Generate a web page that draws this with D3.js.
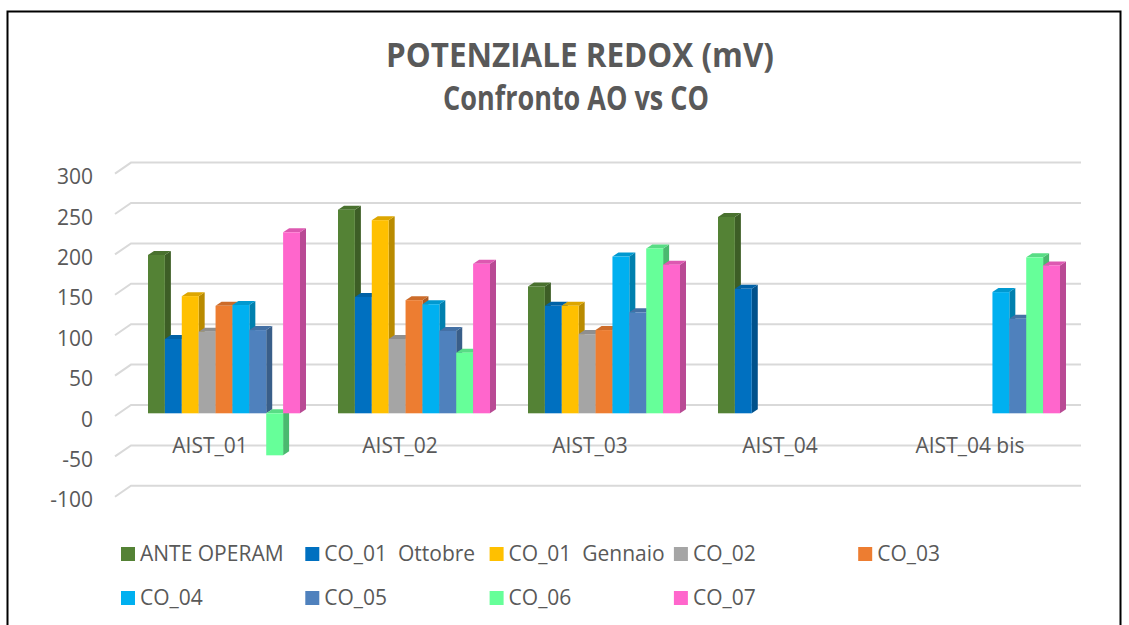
<!DOCTYPE html>
<html>
<head>
<meta charset="utf-8">
<script src="https://cdn.jsdelivr.net/npm/d3@7"></script>
<style>
    body { margin: 0; background: #fff; }
    text { font-family: 'Open Sans', sans-serif; fill: #595959; }
</style>
</head>
<body>
<svg id="chart" width="1129" height="625"></svg>
<script>
let categories = ['AIST_01', 'AIST_02', 'AIST_03', 'AIST_04', 'AIST_04 bis']
let seriesNames = [
    'ANTE OPERAM', 'CO_01  Ottobre', 'CO_01  Gennaio', 'CO_02', 'CO_03',
    'CO_04', 'CO_05', 'CO_06', 'CO_07'
]
let seriesColors = [
    '#548235', '#0070c0', '#ffc000', '#a5a5a5', '#ed7d31',
    '#00b0f0', '#4f81bd', '#66ff99', '#ff66cc'
]
let anteOperam   = [196, 252, 157, 243, null]
let co01Ottobre  = [92, 144, 133, 154, null]
let co01Gennaio  = [145, 239, 133, null, null]
let co02         = [101, 92, 98, null, null]
let co03         = [133, 140, 103, null, null]
let co04         = [134, 135, 194, null, 150]
let co05         = [103, 102, 125, null, 117]
let co06         = [-52, 75, 204, null, 193]
let co07         = [224, 185, 184, null, 183]
let yTicks = [-100, -50, 0, 50, 100, 150, 200, 250, 300]

function main() {
    let svg = d3.select('#chart')
    let values = [anteOperam, co01Ottobre, co01Gennaio, co02, co03, co04, co05, co06, co07]

    // 3D offsets: floor/back wall and bar depth
    let wallDx = 16, wallBack = -8.3, wallFront = 2.7
    let depthDx = 6, depthDy = -4

    let y = d3.scaleLinear().domain([-100, 300]).range([494.1, 170.9]),
        xBack = d3.scaleBand().domain(categories).range([131, 1081]),
        xFront = d3.scaleBand().domain(categories).range([131 - wallDx, 1081 - wallDx]),
        xInner = d3.scaleBand().domain(d3.range(seriesNames.length)).range([0, xBack.bandwidth() * 0.8])

    // outer frame
    svg.append('rect')
        .attr('x', 7.5).attr('y', 11.5)
        .attr('width', 1113).attr('height', 700)
        .attr('fill', 'none').attr('stroke', '#000').attr('stroke-width', 2)

    // title
    svg.append('text')
        .attr('x', 580).attr('y', 67)
        .attr('text-anchor', 'middle')
        .attr('textLength', 388).attr('lengthAdjust', 'spacingAndGlyphs')
        .style('font-size', '34px').style('font-weight', 'bold')
        .text('POTENZIALE REDOX (mV)')
    svg.append('text')
        .attr('x', 576).attr('y', 110)
        .attr('text-anchor', 'middle')
        .attr('textLength', 266).attr('lengthAdjust', 'spacingAndGlyphs')
        .style('font-size', '34px').style('font-weight', 'bold')
        .text('Confronto AO vs CO')

    // gridlines with the slanted floor edge on the left
    svg.append('g')
        .selectAll('path')
        .data(yTicks)
        .enter()
        .append('path')
        .attr('d', d => 'M' + xFront.range()[0] + ',' + (y(d) + wallFront)
            + 'L' + xBack.range()[0] + ',' + (y(d) + wallBack)
            + 'L' + xBack.range()[1] + ',' + (y(d) + wallBack))
        .attr('fill', 'none')
        .attr('stroke', '#d9d9d9')
        .attr('stroke-width', 2)

    svg.append('g')
        .selectAll('text')
        .data(yTicks)
        .enter()
        .append('text')
        .attr('x', 93)
        .attr('y', d => y(d) + 6)
        .attr('dy', '0.35em')
        .attr('text-anchor', 'end')
        .style('font-size', '21px')
        .text(d => d)

    svg.append('g')
        .selectAll('text')
        .data(categories)
        .enter()
        .append('text')
        .attr('x', d => xFront(d) + xFront.bandwidth() / 2)
        .attr('y', 446)
        .attr('dy', '0.35em')
        .attr('text-anchor', 'middle')
        .style('font-size', '21px')
        .text(d => d)

    // bars, drawn left to right so each front face covers the previous side
    let bars = []
    categories.forEach((c, ci) => {
        seriesNames.forEach((s, si) => {
            let v = values[si][ci]
            if (v === null) return
            bars.push({cat: c, series: si, value: v})
        })
    })

    let w = xInner.bandwidth()
    svg.append('g')
        .selectAll('g')
        .data(bars)
        .enter()
        .append('g')
        .each(function(d) {
            let g = d3.select(this),
                color = seriesColors[d.series],
                x0 = xBack(d.cat) + xBack.bandwidth() * 0.1 - 2 + xInner(d.series),
                yt = y(Math.max(d.value, 0)),
                yb = y(Math.min(d.value, 0))
            g.append('path')
                .attr('d', 'M' + (x0 + w) + ',' + yt + 'L' + (x0 + w + depthDx) + ',' + (yt + depthDy)
                    + 'L' + (x0 + w + depthDx) + ',' + (yb + depthDy) + 'L' + (x0 + w) + ',' + yb + 'Z')
                .attr('fill', d3.color(color).darker(0.9))
            g.append('path')
                .attr('d', 'M' + x0 + ',' + yt + 'L' + (x0 + depthDx) + ',' + (yt + depthDy)
                    + 'L' + (x0 + w + depthDx) + ',' + (yt + depthDy) + 'L' + (x0 + w) + ',' + yt + 'Z')
                .attr('fill', d3.color(color).darker(0.4))
            g.append('rect')
                .attr('x', x0)
                .attr('y', yt)
                .attr('width', w)
                .attr('height', yb - yt)
                .attr('fill', color)
        })

    // legend
    let legend = svg.append('g')
        .selectAll('g')
        .data(seriesNames)
        .enter()
        .append('g')
        .attr('transform', (d, i) => 'translate(' + (121 + (i % 5) * 184.3) + ',' + (i < 5 ? 554 : 598) + ')')

    legend.append('rect')
        .attr('x', 0).attr('y', -7)
        .attr('width', 14).attr('height', 14)
        .attr('fill', (d, i) => seriesColors[i])

    legend.append('text')
        .attr('x', 19)
        .attr('dy', '0.35em')
        .style('font-size', '21px')
        .style('white-space', 'pre')
        .text(d => d)
}

main()
</script>
</body>
</html>
